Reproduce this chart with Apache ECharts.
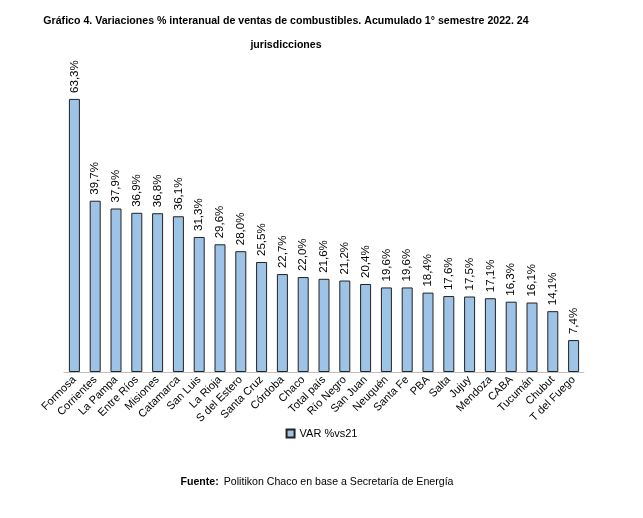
<!DOCTYPE html>
<html><head><meta charset="utf-8">
<script src="https://cdn.jsdelivr.net/npm/echarts@6/dist/echarts.min.js"></script>
<style>html,body{margin:0;padding:0;background:#fff}#c{width:643px;height:518px}</style>
</head><body><div id="c"></div>
<script>
const categories = ["Formosa","Corrientes","La Pampa","Entre Ríos","Misiones","Catamarca","San Luis","La Rioja","S del Estero","Santa Cruz","Córdoba","Chaco","Total país","Río Negro","San Juan","Neuquén","Santa Fe","PBA","Salta","Jujuy","Mendoza","CABA","Tucumán","Chubut","T del Fuego"];
const values = [63.3,39.7,37.9,36.9,36.8,36.1,31.3,29.6,28.0,25.5,22.7,22.0,21.6,21.2,20.4,19.6,19.6,18.4,17.6,17.5,17.1,16.3,16.1,14.1,7.4];
const seriesName = "VAR %vs21";
const titleText = "Gráfico 4. Variaciones % interanual de ventas de combustibles. Acumulado 1° semestre 2022. 24\njurisdicciones";

const chart = echarts.init(document.getElementById('c'));
chart.setOption({
  animation:false,
  title:[{
    text:titleText, left:281, textAlign:'center', top:4,
    textStyle:{fontFamily:'Liberation Sans', fontSize:10.6, fontWeight:'bold', color:'#000', lineHeight:24}
  },{
    text:'{b|Fuente:} {n|Politikon Chaco en base a Secretaría de Energía}',
    left:312, textAlign:'center', top:468,
    textStyle:{rich:{
      b:{fontFamily:'Liberation Sans', fontSize:10.6, fontWeight:'bold', color:'#000'},
      n:{fontFamily:'Liberation Sans', fontSize:10.6, fontWeight:'normal', color:'#000'}
    }}
  }],
  legend:{
    bottom:74, left:'center', itemWidth:8, itemHeight:8, itemGap:4,
    textStyle:{fontFamily:'Liberation Sans', fontSize:11, color:'#000'},
    data:[{name:seriesName, icon:'rect'}]
  },
  grid:{left:64, right:59, top:70, bottom:146},
  xAxis:{
    type:'category', data:categories,
    axisLine:{lineStyle:{color:'#bfbfbf'}},
    axisTick:{show:false},
    axisLabel:{rotate:45, interval:0, fontFamily:'Liberation Sans', fontSize:11, color:'#000', margin:6}
  },
  yAxis:{type:'value', min:0, max:70, show:false, splitLine:{show:false}},
  series:[{
    name:seriesName, type:'bar', data:values, barWidth:11,
    itemStyle:{color:'#9dc3e6', borderColor:'#222', borderWidth:1},
    label:{show:true, position:'top', rotate:90, align:'left', verticalAlign:'middle', distance:6,
      fontFamily:'Liberation Sans', fontSize:11.5, color:'#000',
      formatter:p=>p.value.toFixed(1).replace('.',',')+'%'}
  }]
});
</script></body></html>
